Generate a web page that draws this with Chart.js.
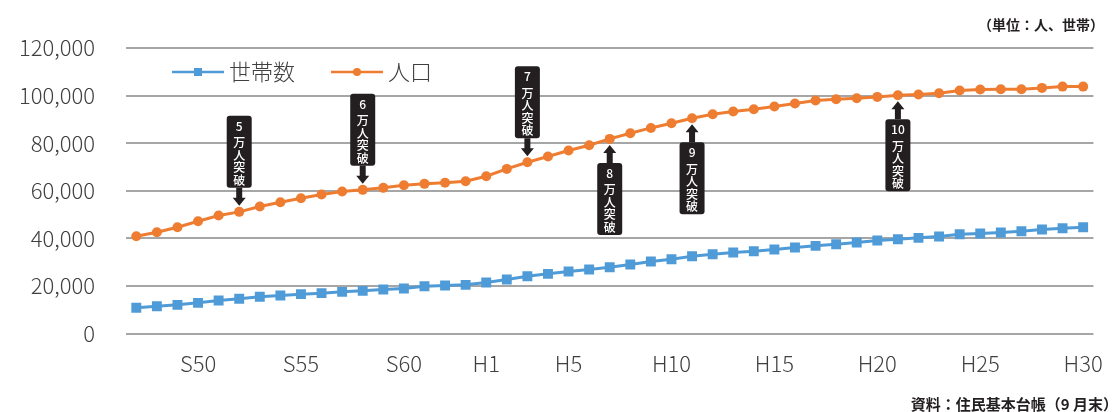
<!DOCTYPE html>
<html lang="ja">
<head>
    <meta charset="UTF-8">
    <title>世帯数と人口の推移</title>
    <script src="https://cdn.jsdelivr.net/npm/chart.js"></script>
    <style>
        html, body { margin: 0; padding: 0; background: #fff; }
        #wrap { width: 1120px; height: 412px; position: relative; }
    </style>
</head>
<body>
<div id="wrap">
    <canvas id="myChart" width="1120" height="412"></canvas>
</div>
<script>
// 年（昭和47年〜平成30年）
const years = [
    'S47','S48','S49','S50','S51','S52','S53','S54','S55','S56','S57','S58','S59','S60','S61','S62','S63',
    'H1','H2','H3','H4','H5','H6','H7','H8','H9','H10','H11','H12','H13','H14','H15','H16','H17','H18','H19','H20',
    'H21','H22','H23','H24','H25','H26','H27','H28','H29','H30'
];
// 軸に表示する年
const shownYears = ['S50','S55','S60','H1','H5','H10','H15','H20','H25','H30'];

// 世帯数
const households = [
    10800, 11470, 12040, 12890, 13870, 14580, 15420, 15970, 16530, 16950, 17510, 17930, 18490, 18910, 19880, 20170, 20450,
    21430, 22690, 24090, 25070, 26050, 26890, 27870, 28990, 30250, 31230, 32500, 33340, 34040, 34600, 35300, 36140, 36850, 37530, 38240, 39080,
    39640, 40210, 40760, 41730, 42020, 42440, 42990, 43700, 44250, 44670
];
// 人口
const population = [
    40890, 42570, 44670, 47190, 49580, 51130, 53370, 55180, 56860, 58410, 59670, 60380, 61220, 62320, 62900, 63400, 64010,
    66100, 69180, 71990, 74370, 76900, 79130, 81790, 84170, 86410, 88370, 90470, 92150, 93280, 94260, 95390, 96650, 97910, 98470, 98890, 99450,
    100150, 100430, 100990, 102110, 102530, 102670, 102670, 103230, 103770, 103770
];

// 「○万人突破」の吹き出し
const milestoneYears = ['S52','S58','H3','H7','H11','H21'];
const milestoneText = ['5','6','7','8','9','10'];
const milestoneAbove = [true, true, true, false, false, false];

const FONT = "'Noto Sans CJK JP', 'Noto Sans', sans-serif";
const BLUE = '#4f9bd7';
const ORANGE = '#ee7d31';

// 吹き出しと凡例、単位・出典を描く
const decorPlugin = {
    id: 'decor',
    afterDatasetsDraw(chart) {
        const ctx = chart.ctx;
        const meta = chart.getDatasetMeta(1);
        ctx.save();
        milestoneYears.forEach((yr, i) => {
            const pt = meta.data[years.indexOf(yr)];
            const x = pt.x;
            const above = milestoneAbove[i];
            const tip = above ? pt.y - 6 : pt.y + 6;
            const boxEdge = above ? tip - 18 : tip + 18;
            const boxTop = above ? boxEdge - 72 : boxEdge;
            ctx.fillStyle = '#231f20';
            // 矢印
            const d = above ? -1 : 1;
            const headBase = tip + d * 8;
            ctx.beginPath();
            ctx.moveTo(x - 3, boxEdge);
            ctx.lineTo(x + 3, boxEdge);
            ctx.lineTo(x + 3, headBase);
            ctx.lineTo(x + 6.5, headBase);
            ctx.lineTo(x, tip);
            ctx.lineTo(x - 6.5, headBase);
            ctx.lineTo(x - 3, headBase);
            ctx.closePath();
            ctx.fill();
            // 箱
            ctx.beginPath();
            ctx.roundRect(x - 12.5, boxTop, 25, 72, 3);
            ctx.fill();
            // 文字
            ctx.fillStyle = '#ffffff';
            ctx.textAlign = 'center';
            ctx.textBaseline = 'middle';
            ctx.font = '500 12px ' + FONT;
            ctx.fillText(milestoneText[i], x, boxTop + 10.5);
            ['万', '人', '突', '破'].forEach((c, j) => {
                ctx.fillText(c, x, boxTop + 27 + j * 12.5);
            });
        });
        ctx.restore();
    },
    afterDraw(chart) {
        const ctx = chart.ctx;
        ctx.save();
        // 凡例
        const items = [
            { x: 172, color: BLUE, style: 'rect', label: '世帯数' },
            { x: 331, color: ORANGE, style: 'circle', label: '人口' }
        ];
        const ly = 72;
        items.forEach(it => {
            ctx.strokeStyle = it.color;
            ctx.lineWidth = 2.5;
            ctx.beginPath();
            ctx.moveTo(it.x, ly);
            ctx.lineTo(it.x + 52, ly);
            ctx.stroke();
            ctx.fillStyle = it.color;
            if (it.style === 'rect') {
                ctx.fillRect(it.x + 26 - 4, ly - 4, 8, 8);
            } else {
                ctx.beginPath();
                ctx.arc(it.x + 26, ly, 4, 0, Math.PI * 2);
                ctx.fill();
            }
            ctx.fillStyle = '#404040';
            ctx.font = '300 22px ' + FONT;
            ctx.textAlign = 'left';
            ctx.textBaseline = 'middle';
            ctx.fillText(it.label, it.x + 57, ly);
        });
        // 単位・出典
        ctx.fillStyle = '#231f20';
        ctx.font = 'bold 14px ' + FONT;
        ctx.textAlign = 'right';
        ctx.textBaseline = 'middle';
        ctx.fillText('（単位：人、世帯）', 1104, 25);
        ctx.font = 'bold 15px ' + FONT;
        ctx.fillText('資料：住民基本台帳（9 月末）', 1118, 404);
        ctx.restore();
    }
};

const ctx = document.getElementById('myChart').getContext('2d');
new Chart(ctx, {
    type: 'line',
    data: {
        labels: years,
        datasets: [
            {
                label: '世帯数',
                data: households,
                borderColor: BLUE,
                backgroundColor: BLUE,
                borderWidth: 3,
                pointStyle: 'rect',
                pointRadius: 7,
                pointBorderWidth: 0,
                fill: false,
                tension: 0
            },
            {
                label: '人口',
                data: population,
                borderColor: ORANGE,
                backgroundColor: ORANGE,
                borderWidth: 3,
                pointStyle: 'circle',
                pointRadius: 5,
                pointBorderWidth: 0,
                fill: false,
                tension: 0
            }
        ]
    },
    options: {
        responsive: false,
        animation: false,
        layout: {
            padding: { top: 48, right: 25, bottom: 0, left: 0 }
        },
        plugins: {
            legend: { display: false },
            tooltip: { enabled: false }
        },
        scales: {
            x: {
                offset: true,
                grid: { display: false, drawTicks: false },
                border: { display: false },
                ticks: {
                    autoSkip: false,
                    maxRotation: 0,
                    padding: 17,
                    color: '#404040',
                    font: { family: FONT, size: 22, weight: '300' },
                    callback: function(value) {
                        const lbl = this.getLabelForValue(value);
                        return shownYears.includes(lbl) ? lbl : '';
                    }
                },
                afterFit(scale) { scale.height = 78.5; }
            },
            y: {
                min: 0,
                max: 120000,
                grid: { color: '#a6a6a6', lineWidth: 2, drawTicks: false },
                border: { display: false },
                ticks: {
                    stepSize: 20000,
                    padding: 31,
                    color: '#404040',
                    font: { family: FONT, size: 22, weight: '300' },
                    callback: v => v.toLocaleString('en-US')
                },
                afterFit(scale) { scale.width = 126; }
            }
        }
    },
    plugins: [decorPlugin]
});
</script>
</body>
</html>
